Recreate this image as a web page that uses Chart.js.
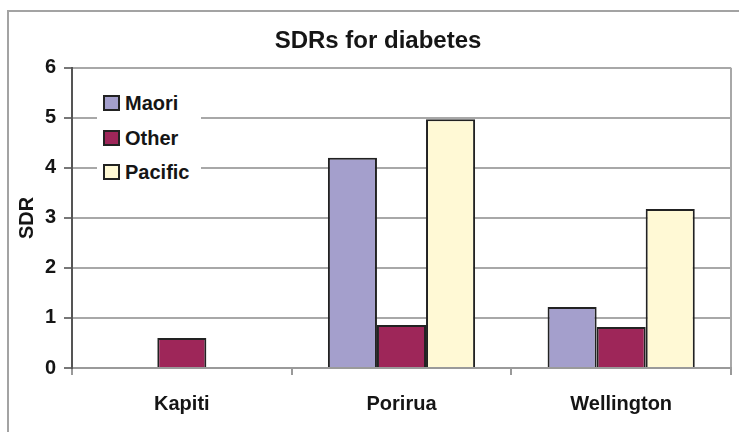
<!DOCTYPE html>
<html>
<head>
<meta charset="utf-8">
<title>SDRs for diabetes</title>
<script src="https://cdn.jsdelivr.net/npm/chart.js@4/dist/chart.umd.min.js"></script>
<style>
html, body { margin: 0; padding: 0; background: #fff; overflow: hidden; }
#wrap { position: relative; width: 739px; height: 432px; }
#frame { position: absolute; left: 7px; top: 10px; width: 800px; height: 500px;
  border-left: 2px solid #a3a3a3; border-top: 2px solid #a3a3a3; }
#myChart { position: absolute; left: 0; top: 0; }
#legend { position: absolute; left: 97px; top: 86px; width: 104px; height: 104px; background: #fff;
  font: bold 20px "Liberation Sans", Arial, sans-serif; color: #151515; }
.item { position: absolute; left: 6px; height: 24px; line-height: 24px; white-space: nowrap; }
.box { display: inline-block; width: 13px; height: 12px; border: 2px solid #222;
  vertical-align: -1px; margin-right: 5px; }
</style>
</head>
<body>
<div id="wrap">
  <div id="frame"></div>
  <canvas id="myChart" width="739" height="432"></canvas>
  <div id="legend"></div>
</div>
<script>
const categories = ['Kapiti', 'Porirua', 'Wellington'];
const seriesNames = ['Maori', 'Other', 'Pacific'];
const maori   = [null, 4.2, 1.22];
const other   = [0.6, 0.86, 0.82];
const pacific = [null, 4.97, 3.18];
const yTicks = [0, 1, 2, 3, 4, 5, 6];
const colors = ['#a49fcc', '#9e2659', '#fff9d5'];

const fontFam = '"Liberation Sans", Arial, sans-serif'
const textCol = '#151515'
const gridCol = '#a8a8a8'

// legend in the plot corner, white box over the gridlines
const legend = document.getElementById('legend')
seriesNames.forEach((name, i) => {
  const item = document.createElement('div')
  item.className = 'item'
  item.style.top = (5 + i * 34.5) + 'px'
  item.innerHTML = `<span class="box" style="background:${colors[i]}"></span>${name}`
  legend.appendChild(item)
})

new Chart('myChart', {
  type: 'bar',
  data: {
    labels: categories,
    datasets: [maori, other, pacific].map((vals, i) => ({
      label: seriesNames[i],
      data: vals,
      backgroundColor: colors[i],
      borderColor: '#222',
      borderWidth: 2,
      categoryPercentage: 0.67,
      barPercentage: 1.0
    }))
  },
  options: {
    responsive: false,
    animation: false,
    devicePixelRatio: 1,
    layout: { padding: { left: 25, right: 8, top: 0, bottom: 0 } },
    plugins: {
      legend: { display: false },
      tooltip: { enabled: false },
      title: {
        display: true,
        text: 'SDRs for diabetes',
        color: textCol,
        font: { family: fontFam, size: 24, weight: 'bold', lineHeight: 1.2 },
        padding: { top: 27, bottom: 12 }
      }
    },
    scales: {
      x: {
        grid: {
          offset: true,
          color: ctx => ctx.type === 'tick' ? 'transparent' : gridCol,
          lineWidth: 2,
          tickLength: 7,
          tickColor: '#999',
          tickWidth: 2
        },
        border: { color: '#9a9a9a', width: 2 },
        ticks: { color: textCol, padding: 17, font: { family: fontFam, size: 20, weight: 'bold', lineHeight: 1.2 } },
        afterFit: s => { s.height = 64 }
      },
      y: {
        min: yTicks[0],
        max: yTicks[yTicks.length - 1],
        ticks: { stepSize: 1, color: textCol, padding: 8, font: { family: fontFam, size: 20, weight: 'bold', lineHeight: 1 } },
        grid: { color: gridCol, lineWidth: 2, tickLength: 8, tickColor: '#777', tickWidth: 2 },
        border: { color: '#555', width: 2 },
        title: {
          display: true,
          text: 'SDR',
          color: textCol,
          font: { family: fontFam, size: 20, weight: 'bold', lineHeight: 1.2 },
          padding: { top: -10, bottom: 0 }
        },
        afterFit: s => { s.width = 47 }
      }
    }
  }
})
</script>
</body>
</html>
